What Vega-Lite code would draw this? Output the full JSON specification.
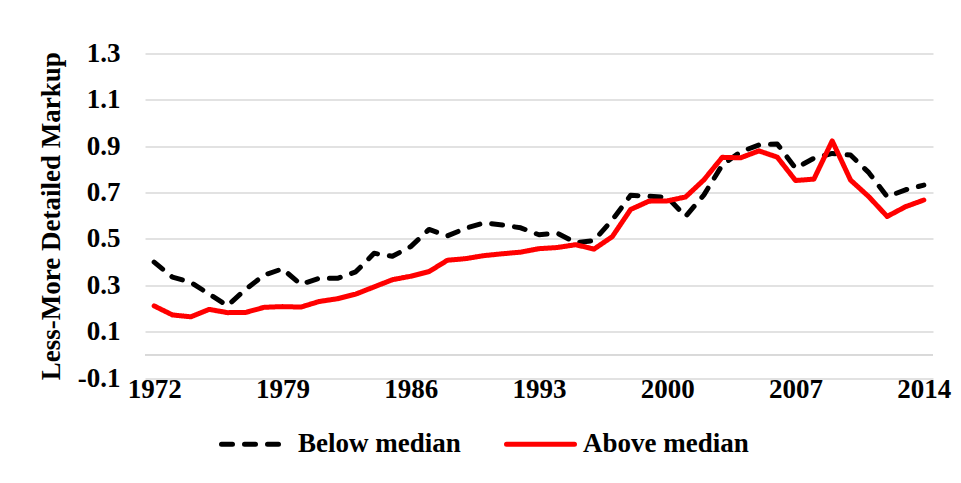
{
  "$schema": "https://vega.github.io/schema/vega-lite/v6.json",
  "width": 788,
  "height": 324.5,
  "autosize": {"type": "none"},
  "padding": {"left": 145, "top": 53.5, "right": 28, "bottom": 105},
  "background": "white",
  "config": {
    "font": "Liberation Serif",
    "view": {"stroke": null},
    "axis": {"labelColor": "#000000", "titleColor": "#000000"}
  },
  "data": {
    "values": [
      {"year": 1972, "series": "Below median", "value": 0.40},
      {"year": 1973, "series": "Below median", "value": 0.335},
      {"year": 1974, "series": "Below median", "value": 0.313},
      {"year": 1975, "series": "Below median", "value": 0.262},
      {"year": 1976, "series": "Below median", "value": 0.212},
      {"year": 1977, "series": "Below median", "value": 0.283},
      {"year": 1978, "series": "Below median", "value": 0.344},
      {"year": 1979, "series": "Below median", "value": 0.371},
      {"year": 1980, "series": "Below median", "value": 0.304},
      {"year": 1981, "series": "Below median", "value": 0.33},
      {"year": 1982, "series": "Below median", "value": 0.33},
      {"year": 1983, "series": "Below median", "value": 0.358},
      {"year": 1984, "series": "Below median", "value": 0.438},
      {"year": 1985, "series": "Below median", "value": 0.425},
      {"year": 1986, "series": "Below median", "value": 0.467},
      {"year": 1987, "series": "Below median", "value": 0.541},
      {"year": 1988, "series": "Below median", "value": 0.513},
      {"year": 1989, "series": "Below median", "value": 0.546},
      {"year": 1990, "series": "Below median", "value": 0.569},
      {"year": 1991, "series": "Below median", "value": 0.56},
      {"year": 1992, "series": "Below median", "value": 0.548},
      {"year": 1993, "series": "Below median", "value": 0.518},
      {"year": 1994, "series": "Below median", "value": 0.525},
      {"year": 1995, "series": "Below median", "value": 0.484},
      {"year": 1996, "series": "Below median", "value": 0.493},
      {"year": 1997, "series": "Below median", "value": 0.582},
      {"year": 1998, "series": "Below median", "value": 0.688},
      {"year": 1999, "series": "Below median", "value": 0.684},
      {"year": 2000, "series": "Below median", "value": 0.68},
      {"year": 2001, "series": "Below median", "value": 0.597},
      {"year": 2002, "series": "Below median", "value": 0.69},
      {"year": 2003, "series": "Below median", "value": 0.819},
      {"year": 2004, "series": "Below median", "value": 0.876},
      {"year": 2005, "series": "Below median", "value": 0.905},
      {"year": 2006, "series": "Below median", "value": 0.91},
      {"year": 2007, "series": "Below median", "value": 0.805},
      {"year": 2008, "series": "Below median", "value": 0.848},
      {"year": 2009, "series": "Below median", "value": 0.869},
      {"year": 2010, "series": "Below median", "value": 0.862},
      {"year": 2011, "series": "Below median", "value": 0.786},
      {"year": 2012, "series": "Below median", "value": 0.682},
      {"year": 2013, "series": "Below median", "value": 0.712},
      {"year": 2014, "series": "Below median", "value": 0.732},
      {"year": 1972, "series": "Above median", "value": 0.211},
      {"year": 1973, "series": "Above median", "value": 0.172},
      {"year": 1974, "series": "Above median", "value": 0.164},
      {"year": 1975, "series": "Above median", "value": 0.196},
      {"year": 1976, "series": "Above median", "value": 0.182},
      {"year": 1977, "series": "Above median", "value": 0.183},
      {"year": 1978, "series": "Above median", "value": 0.205},
      {"year": 1979, "series": "Above median", "value": 0.208},
      {"year": 1980, "series": "Above median", "value": 0.206},
      {"year": 1981, "series": "Above median", "value": 0.23},
      {"year": 1982, "series": "Above median", "value": 0.242},
      {"year": 1983, "series": "Above median", "value": 0.262},
      {"year": 1984, "series": "Above median", "value": 0.293},
      {"year": 1985, "series": "Above median", "value": 0.324},
      {"year": 1986, "series": "Above median", "value": 0.339},
      {"year": 1987, "series": "Above median", "value": 0.359},
      {"year": 1988, "series": "Above median", "value": 0.408},
      {"year": 1989, "series": "Above median", "value": 0.415},
      {"year": 1990, "series": "Above median", "value": 0.428},
      {"year": 1991, "series": "Above median", "value": 0.436},
      {"year": 1992, "series": "Above median", "value": 0.443},
      {"year": 1993, "series": "Above median", "value": 0.458},
      {"year": 1994, "series": "Above median", "value": 0.463},
      {"year": 1995, "series": "Above median", "value": 0.475},
      {"year": 1996, "series": "Above median", "value": 0.456},
      {"year": 1997, "series": "Above median", "value": 0.51},
      {"year": 1998, "series": "Above median", "value": 0.627},
      {"year": 1999, "series": "Above median", "value": 0.663},
      {"year": 2000, "series": "Above median", "value": 0.664},
      {"year": 2001, "series": "Above median", "value": 0.681},
      {"year": 2002, "series": "Above median", "value": 0.755},
      {"year": 2003, "series": "Above median", "value": 0.852},
      {"year": 2004, "series": "Above median", "value": 0.85},
      {"year": 2005, "series": "Above median", "value": 0.88},
      {"year": 2006, "series": "Above median", "value": 0.853},
      {"year": 2007, "series": "Above median", "value": 0.752},
      {"year": 2008, "series": "Above median", "value": 0.758},
      {"year": 2009, "series": "Above median", "value": 0.923},
      {"year": 2010, "series": "Above median", "value": 0.754},
      {"year": 2011, "series": "Above median", "value": 0.682},
      {"year": 2012, "series": "Above median", "value": 0.597},
      {"year": 2013, "series": "Above median", "value": 0.639},
      {"year": 2014, "series": "Above median", "value": 0.668}
    ]
  },
  "layer": [
    {
      "mark": {"type": "rule", "color": "#D9D9D9", "strokeWidth": 1.5},
      "encoding": {"y": {"datum": 0, "type": "quantitative"}}
    },
    {
      "mark": {"type": "line", "strokeWidth": 5, "strokeCap": "round", "strokeJoin": "round"},
      "encoding": {
        "x": {
          "field": "year",
          "type": "quantitative",
          "scale": {"domain": [1971.5, 2014.5], "nice": false, "zero": false},
          "axis": {
            "values": [1972, 1979, 1986, 1993, 2000, 2007, 2014],
            "format": "d",
            "title": null,
            "grid": false,
            "domain": false,
            "ticks": false,
            "labelFontSize": 27,
            "labelFontWeight": "bold",
            "labelPadding": -2,
            "labelFlush": false,
            "labelOverlap": false
          }
        },
        "y": {
          "field": "value",
          "type": "quantitative",
          "scale": {"domain": [-0.1, 1.3], "nice": false, "zero": false},
          "axis": {
            "values": [-0.1, 0.1, 0.3, 0.5, 0.7, 0.9, 1.1, 1.3],
            "format": ".1f",
            "labelExpr": "replace(datum.label, '\u2212', '-')",
            "title": "Less-More Detailed Markup",
            "titleFontSize": 27,
            "titleFontWeight": "bold",
            "titlePadding": 12,
            "grid": true,
            "gridColor": "#D9D9D9",
            "gridWidth": 1.5,
            "domain": false,
            "ticks": false,
            "labelFontSize": 27,
            "labelFontWeight": "bold",
            "labelPadding": 25,
            "labelFlush": false,
            "labelOverlap": false
          }
        },
        "color": {
          "field": "series",
          "type": "nominal",
          "scale": {"domain": ["Below median", "Above median"], "range": ["#000000", "#FF0000"]},
          "legend": {
            "orient": "none",
            "legendX": 74,
            "legendY": 354,
            "direction": "horizontal",
            "title": null,
            "symbolType": "stroke",
            "symbolSize": 4624,
            "symbolStrokeWidth": 5,
            "labelFontSize": 27,
            "labelFontWeight": "bold",
            "labelColor": "#000000",
            "labelOffset": 6,
            "labelLimit": 400,
            "columnPadding": 35,
            "encode": {
              "symbols": {
                "update": {
                  "strokeCap": {"value": "round"},
                  "strokeDash": {"signal": "datum.value === 'Below median' ? [13, 11] : [1, 0]"}
                }
              }
            }
          }
        },
        "strokeDash": {
          "field": "series",
          "type": "nominal",
          "scale": {"domain": ["Below median", "Above median"], "range": [[11, 12], [1, 0]]},
          "legend": {
            "orient": "none",
            "legendX": 74,
            "legendY": 354,
            "direction": "horizontal",
            "title": null,
            "symbolType": "stroke",
            "symbolSize": 4624,
            "symbolStrokeWidth": 5,
            "labelFontSize": 27,
            "labelFontWeight": "bold",
            "labelColor": "#000000",
            "labelOffset": 6,
            "labelLimit": 400,
            "columnPadding": 35,
            "encode": {
              "symbols": {
                "update": {
                  "strokeCap": {"value": "round"},
                  "strokeDash": {"signal": "datum.value === 'Below median' ? [13, 11] : [1, 0]"}
                }
              }
            }
          }
        }
      }
    }
  ]
}
